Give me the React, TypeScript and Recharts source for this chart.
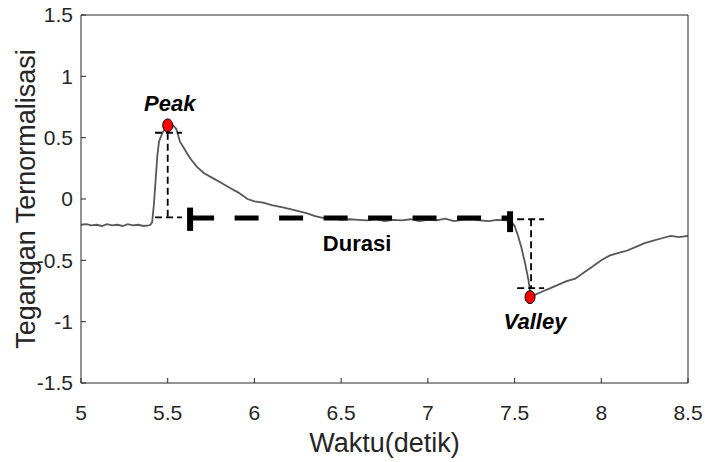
import React from "react";
import {
  LineChart,
  Line,
  XAxis,
  YAxis,
  ReferenceLine,
  ReferenceDot,
  Label,
} from "recharts";

// normalized voltage trace (time in seconds)
const waktu = [
  5.0, 5.03, 5.06, 5.09, 5.12, 5.15, 5.18, 5.21, 5.24, 5.27, 5.3, 5.33, 5.36, 5.39,
  5.4, 5.41, 5.42, 5.43, 5.44, 5.45, 5.47, 5.49, 5.51, 5.53, 5.55, 5.57, 5.6, 5.63,
  5.67, 5.71, 5.76, 5.81, 5.86, 5.91, 5.96, 6.0, 6.05, 6.1, 6.17, 6.23, 6.3, 6.35,
  6.4, 6.45, 6.5, 6.55, 6.6, 6.65, 6.7, 6.75, 6.8, 6.85, 6.9, 6.95, 7.0, 7.05, 7.1,
  7.15, 7.2, 7.25, 7.3, 7.35, 7.4, 7.45, 7.48, 7.5, 7.52, 7.54, 7.56, 7.58, 7.59,
  7.6, 7.62, 7.65, 7.7, 7.75, 7.8, 7.85, 7.9, 7.95, 8.0, 8.05, 8.1, 8.15, 8.2, 8.25,
  8.3, 8.35, 8.4, 8.45, 8.5,
];
const tegangan = [
  -0.21, -0.205, -0.215, -0.21, -0.22, -0.205, -0.215, -0.21, -0.22, -0.205, -0.215,
  -0.21, -0.22, -0.215, -0.21, -0.19, -0.05, 0.15, 0.35, 0.47, 0.54, 0.58, 0.6, 0.6,
  0.57, 0.47, 0.4, 0.33, 0.26, 0.21, 0.17, 0.13, 0.09, 0.05, 0.0, -0.02, -0.03, -0.05,
  -0.07, -0.09, -0.115, -0.14, -0.155, -0.16, -0.17, -0.165, -0.17, -0.175, -0.165,
  -0.18, -0.17, -0.175, -0.165, -0.18, -0.17, -0.175, -0.16, -0.18, -0.17, -0.165,
  -0.175, -0.18, -0.17, -0.175, -0.18, -0.22, -0.3, -0.4, -0.52, -0.66, -0.76, -0.79,
  -0.78, -0.76, -0.73, -0.7, -0.67, -0.65, -0.6, -0.55, -0.5, -0.46, -0.44, -0.42,
  -0.39, -0.36, -0.34, -0.32, -0.3, -0.31, -0.3,
];

const xTicks = [5, 5.5, 6, 6.5, 7, 7.5, 8, 8.5];
const yTicks = [-1.5, -1, -0.5, 0, 0.5, 1, 1.5];

// marked extremes
const peak = { t: 5.5, v: 0.6 };
const valley = { t: 7.589, v: -0.8 };

// helper guides around the peak and valley
const peakSpan = [5.427, 5.582];
const peakLevels = [0.54, -0.15];
const valleyX = 7.595;
const valleySpan = [7.515, 7.67];
const valleyLevels = [-0.165, -0.726];

// duration bar with end caps
const durasiX = [5.629, 7.474];
const durasiY = -0.155;
const capLeft = [-0.07, -0.26];
const capRight = [-0.1, -0.27];

const data = waktu.map((t, i) => ({ t, v: tegangan[i] }));

const AXIS = "#262626";
const FONT = "'Liberation Sans', Arial, Helvetica, sans-serif";
const tickStyle = { fontSize: 21, fill: AXIS, fontFamily: FONT };

const guide = { stroke: "#000", strokeWidth: 1.8, strokeDasharray: "7 4" };
const ids = { xAxisId: "b", yAxisId: "l" } as const;

const marker = (props: any) => (
  <ellipse
    cx={props.cx}
    cy={props.cy}
    rx={5}
    ry={6.5}
    fill="#ff0000"
    stroke="#000"
    strokeWidth={1}
  />
);

export default function App() {
  return (
    <div style={{ position: "absolute", left: 0, top: 0, background: "#fff" }}>
      <LineChart
        width={705}
        height={462}
        data={data}
        margin={{ top: 15, right: 17, bottom: 0, left: 0 }}
      >
        <XAxis
          xAxisId="b"
          dataKey="t"
          type="number"
          domain={[5, 8.5]}
          ticks={xTicks}
          interval={0}
          height={79}
          tickSize={-5}
          tickMargin={27}
          tick={tickStyle}
          stroke={AXIS}
          allowDataOverflow
        >
          <Label
            value="Waktu(detik)"
            position="insideBottom"
            offset={10}
            style={{ fontSize: 27, fill: AXIS, fontFamily: FONT }}
          />
        </XAxis>
        <XAxis
          xAxisId="t"
          orientation="top"
          dataKey="t"
          type="number"
          domain={[5, 8.5]}
          ticks={xTicks}
          interval={0}
          mirror
          tick={false}
          tickSize={5}
          stroke={AXIS}
          allowDataOverflow
        />
        <YAxis
          yAxisId="l"
          type="number"
          domain={[-1.5, 1.5]}
          ticks={yTicks}
          interval={0}
          width={81}
          tickSize={-5}
          tickMargin={13}
          tick={tickStyle}
          stroke={AXIS}
          allowDataOverflow
        >
          <Label
            value="Tegangan Ternormalisasi"
            position="center"
            angle={-90}
            dx={-15}
            style={{ fontSize: 27, fill: AXIS, fontFamily: FONT, textAnchor: "middle" }}
          />
        </YAxis>
        <YAxis
          yAxisId="r"
          orientation="right"
          type="number"
          domain={[-1.5, 1.5]}
          ticks={yTicks}
          interval={0}
          mirror
          tick={false}
          tickSize={5}
          stroke={AXIS}
          allowDataOverflow
        />

        <Line
          {...ids}
          type="linear"
          dataKey="v"
          stroke="#585858"
          strokeWidth={1.8}
          dot={false}
          isAnimationActive={false}
        />

        {/* peak guides */}
        <ReferenceLine
          {...ids}
          segment={[{ x: peakSpan[0], y: peakLevels[0] }, { x: peakSpan[1], y: peakLevels[0] }]}
          {...guide}
        />
        <ReferenceLine
          {...ids}
          segment={[{ x: peakSpan[0], y: peakLevels[1] }, { x: peakSpan[1], y: peakLevels[1] }]}
          {...guide}
        />
        <ReferenceLine
          {...ids}
          segment={[{ x: peak.t, y: peakLevels[0] }, { x: peak.t, y: peakLevels[1] }]}
          {...guide}
        />

        {/* valley guides */}
        <ReferenceLine
          {...ids}
          segment={[{ x: valleySpan[0], y: valleyLevels[0] }, { x: valleySpan[1], y: valleyLevels[0] }]}
          {...guide}
        />
        <ReferenceLine
          {...ids}
          segment={[{ x: valleySpan[0], y: valleyLevels[1] }, { x: valleySpan[1], y: valleyLevels[1] }]}
          {...guide}
        />
        <ReferenceLine
          {...ids}
          segment={[{ x: valleyX, y: valleyLevels[0] }, { x: valleyX, y: valleyLevels[1] }]}
          {...guide}
        />

        {/* duration bar */}
        <ReferenceLine
          {...ids}
          segment={[{ x: durasiX[0], y: durasiY }, { x: durasiX[1], y: durasiY }]}
          stroke="#000"
          strokeWidth={5}
          strokeDasharray="24 20.5"
        >
          <Label
            value="Durasi"
            position="bottom"
            offset={17}
            dx={7}
            style={{ fontSize: 22, fontWeight: "bold", fill: "#000", fontFamily: FONT }}
          />
        </ReferenceLine>
        <ReferenceLine
          {...ids}
          segment={[{ x: durasiX[0], y: capLeft[0] }, { x: durasiX[0], y: capLeft[1] }]}
          stroke="#000"
          strokeWidth={6}
        />
        <ReferenceLine
          {...ids}
          segment={[{ x: durasiX[1], y: capRight[0] }, { x: durasiX[1], y: capRight[1] }]}
          stroke="#000"
          strokeWidth={6}
        />

        <ReferenceDot {...ids} x={peak.t} y={peak.v} r={6} shape={marker}>
          <Label
            value="Peak"
            position="top"
            offset={8}
            dx={2}
            style={{ fontSize: 22, fontWeight: "bold", fontStyle: "italic", fill: "#000", fontFamily: FONT }}
          />
        </ReferenceDot>
        <ReferenceDot {...ids} x={valley.t} y={valley.v} r={6} shape={marker}>
          <Label
            value="Valley"
            position="bottom"
            offset={10}
            dx={5}
            style={{ fontSize: 22, fontWeight: "bold", fontStyle: "italic", fill: "#000", fontFamily: FONT }}
          />
        </ReferenceDot>
      </LineChart>
    </div>
  );
}
